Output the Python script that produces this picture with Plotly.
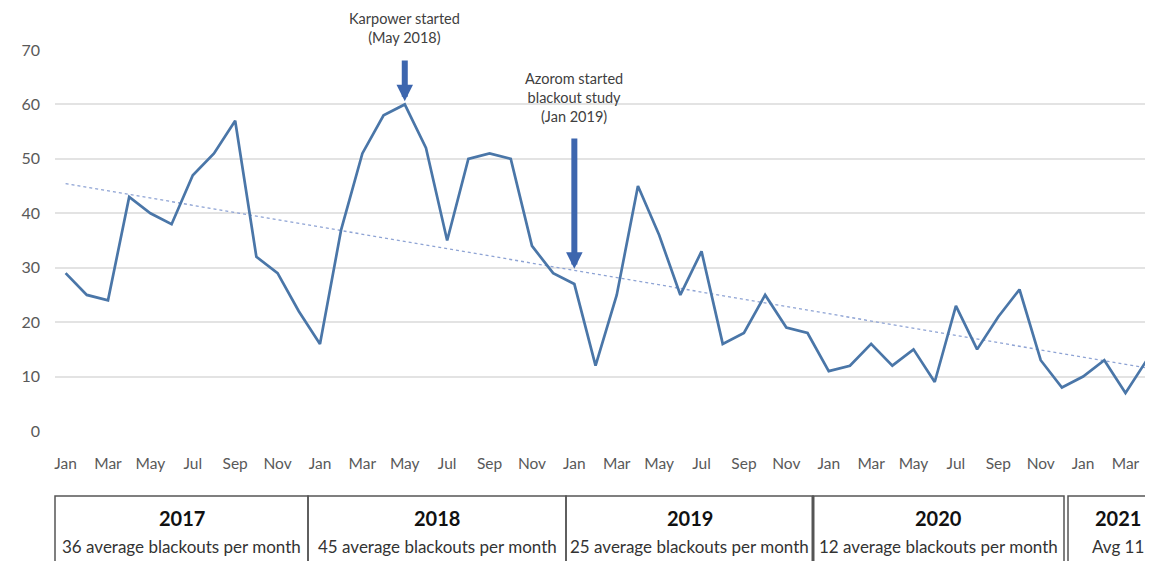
import numpy as np
import plotly.graph_objects as go

# ---------------- data ----------------
months = ["Jan", "Feb", "Mar", "Apr", "May", "Jun", "Jul", "Aug", "Sep", "Oct", "Nov", "Dec"]
years = [2017, 2018, 2019, 2020, 2021]
blackouts_2017 = [29, 25, 24, 43, 40, 38, 47, 51, 57, 32, 29, 22]
blackouts_2018 = [16, 37, 51, 58, 60, 52, 35, 50, 51, 50, 34, 29]
blackouts_2019 = [27, 12, 25, 45, 36, 25, 33, 16, 18, 25, 19, 18]
blackouts_2020 = [11, 12, 16, 12, 15, 9, 23, 15, 21, 26, 13, 8]
blackouts_2021 = [10, 13, 7, 13]
year_titles = ["2017", "2018", "2019", "2020", "2021"]
year_notes = ["36 average blackouts per month", "45 average blackouts per month",
              "25 average blackouts per month", "12 average blackouts per month", "Avg 11"]
event_texts = ["Karpower started<br>(May 2018)",
               "Azorom started<br>blackout study<br>(Jan 2019)"]
event_index = [16, 24]

values = blackouts_2017 + blackouts_2018 + blackouts_2019 + blackouts_2020 + blackouts_2021
n = len(values)
x_idx = list(range(n))
month_labels = [months[i % 12] for i in range(n)]

# linear trendline (least squares, as in the spreadsheet trendline)
slope, intercept = np.polyfit(x_idx, values, 1)
trend = [slope * i + intercept for i in x_idx]

# ---------------- layout constants (window pixels) ----------------
OFF = 8                       # page body margin
WIN_W, WIN_H = 1153, 561
W, H = WIN_W - OFF, WIN_H - OFF
PLOT_L, PLOT_R, PLOT_T, PLOT_B = 55, 1152, 50, 431   # plot area in window px
ML, MT = PLOT_L - OFF, PLOT_T - OFF
MR = max(OFF + W - PLOT_R, 0)
MB = OFF + H - PLOT_B
PW = PLOT_R - PLOT_L
PH = PLOT_B - PLOT_T


def px_x(p):
    return (p - PLOT_L) / PW


def px_y(p):
    return (PLOT_B - p) / PH


FONT = "Lato"
LINE_COLOR = "#4a76a8"
ARROW_COLOR = "#3d66ae"

fig = go.Figure()
fig.add_trace(go.Scatter(x=x_idx, y=trend, mode="lines",
                         line=dict(color="#8ea3d4", width=1.3, dash="dot"),
                         hoverinfo="skip", showlegend=False))
fig.add_trace(go.Scatter(x=x_idx, y=values, mode="lines",
                         line=dict(color=LINE_COLOR, width=2.7),
                         showlegend=False))

annotations = []
# event arrows (tail heights in window px)
arrow_tail_px = [59, 137]
arrow_gap = [0.6, 2.8]
for i, tail, gap in zip(event_index, arrow_tail_px, arrow_gap):
    tail_val = px_y(tail) * 70
    annotations.append(dict(x=i, y=values[i] + gap, ax=i, ay=tail_val, xref="x", yref="y",
                            axref="x", ayref="y", text="", showarrow=True,
                            arrowhead=2, arrowsize=0.55, arrowwidth=6,
                            arrowcolor=ARROW_COLOR))

text_mid_px = [28, 97]
for i, txt, mid in zip(event_index, event_texts, text_mid_px):
    annotations.append(dict(x=i, y=px_y(mid), xref="x", yref="paper",
                            text=txt, showarrow=False, xanchor="center",
                            font=dict(family=FONT, size=14.5, color="#404040"),
                            yanchor="middle", align="center"))

# year boxes
box_edges = [(55, 308), (308, 566), (566, 813), (813, 1064), (1068, 1175)]
box_top, box_bottom = 496, 600
shapes = []
for (x0, x1), title, note in zip(box_edges, year_titles, year_notes):
    shapes.append(dict(type="rect", xref="paper", yref="paper",
                       x0=px_x(x0), x1=px_x(x1), y0=px_y(box_bottom), y1=px_y(box_top),
                       line=dict(color="#555555", width=1.5), fillcolor="rgba(0,0,0,0)",
                       layer="above"))
    cx = px_x(min((x0 + x1) / 2, 1118))
    annotations.append(dict(x=cx, y=px_y(518), xref="paper", yref="paper",
                            text="<b>" + title + "</b>", showarrow=False,
                            xanchor="center", yanchor="middle",
                            font=dict(family=FONT, size=20, color="#111111")))
    annotations.append(dict(x=cx, y=px_y(546), xref="paper", yref="paper",
                            text=note, showarrow=False,
                            xanchor="center", yanchor="middle",
                            font=dict(family=FONT, size=17, color="#333333")))
# thicker divider between 2019 and 2020
shapes.append(dict(type="line", xref="paper", yref="paper",
                   x0=px_x(813), x1=px_x(813), y0=px_y(box_bottom), y1=px_y(box_top),
                   line=dict(color="#555555", width=3)))

fig.update_layout(
    width=W, height=H, autosize=False,
    margin=dict(l=ML, r=MR, t=MT, b=MB),
    paper_bgcolor="white", plot_bgcolor="white",
    font=dict(family=FONT, size=13, color="#595959"),
    xaxis=dict(range=[-0.5, n - 0.75], tickmode="array",
               tickvals=x_idx[::2], ticktext=month_labels[::2],
               showgrid=False, zeroline=False, showline=False, ticks="",
               ticklabelstandoff=21,
               tickfont=dict(family=FONT, size=15.5, color="#595959")),
    yaxis=dict(range=[0, 70], tickvals=[0, 10, 20, 30, 40, 50, 60, 70],
               showgrid=True, gridcolor="#e3e3e3", gridwidth=1.6,
               zeroline=False, showline=False, ticks="",
               ticklabelstandoff=14,
               tickfont=dict(family=FONT, size=16, color="#595959")),
    shapes=shapes,
    annotations=annotations,
)

fig.write_html("out.html")
